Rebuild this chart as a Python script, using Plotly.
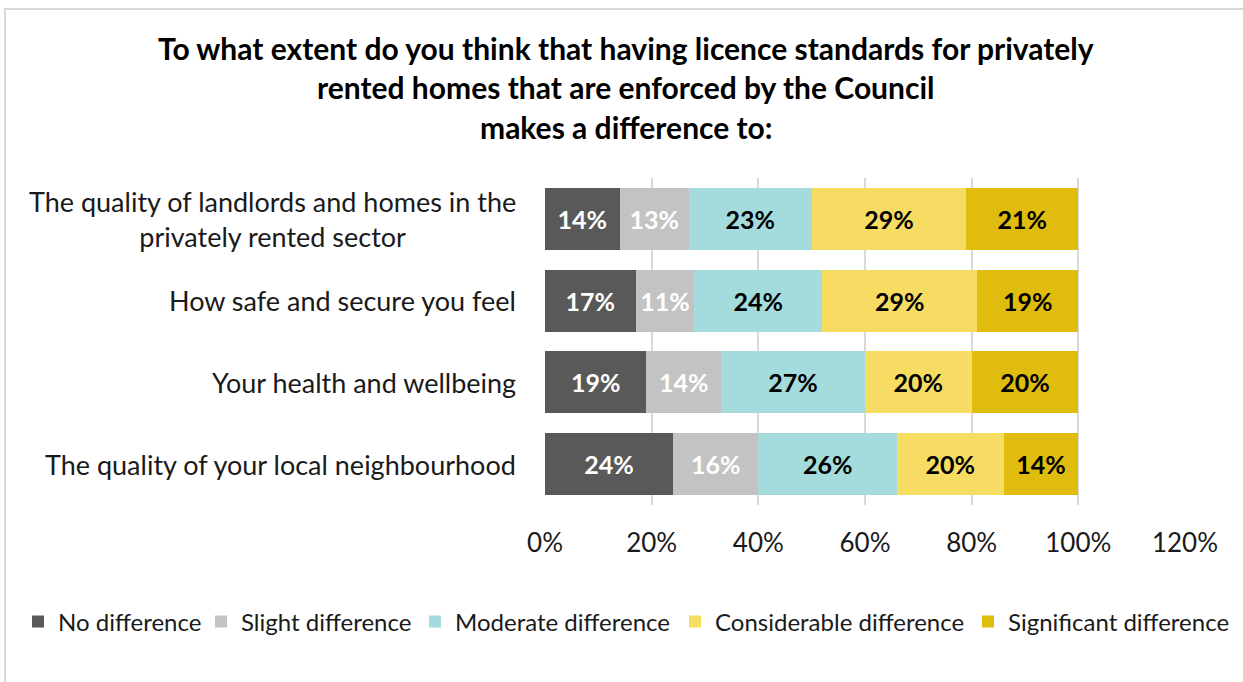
import plotly.graph_objects as go

# Survey responses (% of respondents) per statement
categories = [
    "The quality of landlords and homes in the<br>privately rented sector",
    "How safe and secure you feel",
    "Your health and wellbeing",
    "The quality of your local neighbourhood",
]
no_difference = [14, 17, 19, 24]
slight_difference = [13, 11, 14, 16]
moderate_difference = [23, 24, 27, 26]
considerable_difference = [29, 29, 20, 20]
significant_difference = [21, 19, 20, 14]

series_names = ["No difference", "Slight difference", "Moderate difference",
                "Considerable difference", "Significant difference"]
series_values = [no_difference, slight_difference, moderate_difference,
                 considerable_difference, significant_difference]
colors = ["#595959", "#c3c3c3", "#a4dbdc", "#f6dc62", "#e0bc0e"]
label_colors = ["white", "white", "black", "black", "black"]

FONT = "Lato"

# plot-area geometry in pixels, used to place free annotations
W, H = 1243, 682
L, R, T, B = 545, 58, 178, 177
pw, ph = W - L - R, H - T - B


def px_x(px):
    return (px - L) / pw


def px_y(py):
    return (H - B - py) / ph


ids = list(range(len(categories)))

# one single-entry legend per series so the row can span the full width
legend_left_px = [35, 218, 432, 692, 985]
legend_keys = ["legend"] + [f"legend{k}" for k in range(2, len(series_names) + 1)]

fig = go.Figure()
for name, vals, col, lc, lk in zip(series_names, series_values, colors,
                                   label_colors, legend_keys):
    fig.add_trace(go.Bar(
        y=ids, x=vals, name=name, orientation="h", legend=lk,
        marker=dict(color=col, line=dict(width=0)),
        text=[f"{v}%" for v in vals], textposition="inside",
        insidetextanchor="middle", constraintext="none",
        textfont=dict(family=FONT, size=25, color=lc, weight="bold"),
        hoverinfo="skip",
    ))

# statement labels, right aligned against the axis, lines centred
annotations = []
for i, c in zip(ids, categories):
    annotations.append(dict(
        x=px_x(518), y=i, xref="paper", yref="y", text=c, showarrow=False,
        xanchor="right", yanchor="middle", align="center",
        font=dict(family=FONT, size=27, color="#1a1a1a"),
    ))

title_lines = [
    "To what extent do you think that having licence standards for privately",
    "rented homes that are enforced by the Council",
    "makes a difference to:",
]
for line, py in zip(title_lines, [48, 87, 127]):
    annotations.append(dict(
        x=px_x(626), y=px_y(py), xref="paper", yref="paper", text=f"<b>{line}</b>",
        showarrow=False, xanchor="center", yanchor="middle",
        font=dict(family=FONT, size=30, color="black"),
    ))

legends = {}
for lk, lx in zip(legend_keys, legend_left_px):
    legends[lk] = dict(
        orientation="h", xref="container", yref="container",
        x=(lx - 17) / W, xanchor="left", y=1 - 622 / H, yanchor="middle",
        font=dict(family=FONT, size=24, color="#1a1a1a"),
        itemwidth=30, bgcolor="rgba(0,0,0,0)",
    )

fig.update_layout(
    width=W, height=H, barmode="stack", bargap=0.24,
    margin=dict(l=L, r=R, t=T, b=B, autoexpand=False),
    paper_bgcolor="white", plot_bgcolor="white",
    font=dict(family=FONT, color="#1a1a1a"),
    xaxis=dict(range=[0, 120], dtick=20, ticksuffix="%", showgrid=True,
               gridcolor="#d9d9d9", gridwidth=1.5, zeroline=False,
               showline=False, tickfont=dict(family=FONT, size=26, color="#1a1a1a"),
               ticklabelstandoff=20, fixedrange=True),
    yaxis=dict(tickvals=ids, ticktext=[""] * len(ids), autorange="reversed",
               showgrid=False, zeroline=False, showline=False, fixedrange=True,
               range=[3.5, -0.5]),
    showlegend=True,
    annotations=annotations,
    shapes=[dict(type="rect", xref="paper", yref="paper",
                 x0=px_x(5), x1=px_x(1260), y0=px_y(700), y1=px_y(9),
                 line=dict(color="#d9d9d9", width=2), layer="below")],
    **legends,
)

fig.write_html("out.html")
